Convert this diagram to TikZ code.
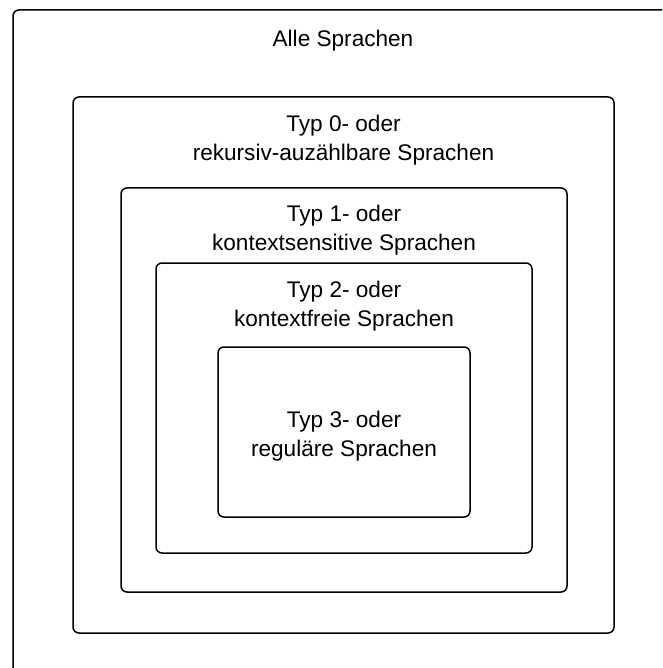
\documentclass[tikz,border=0pt]{standalone}
\usepackage{fontspec}
\setmainfont{Liberation Sans}
\usetikzlibrary{positioning}
\tikzset{
  menge/.style={draw, line width=1.5pt, rounded corners=6pt, inner sep=0pt},
  beschr/.style={inner sep=0pt, align=center, font=\fontsize{22.6}{29}\selectfont}
}
\begin{document}
\begin{tikzpicture}[x=1pt, y=-1pt]
    \useasboundingbox (0,0) rectangle (662,668);
    \clip (0,0) rectangle (662,668);
    %% next five nodes are the nested sets
    \node[menge, minimum width=660pt, minimum height=670pt] (alle) at (343,345) {};
    \node[menge, minimum width=541pt, minimum height=536pt] (typ0) at (343.5,365) {};
    \node[menge, minimum width=446pt, minimum height=404pt] (typ1) at (344,390) {};
    \node[menge, minimum width=376pt, minimum height=290pt] (typ2) at (344,408) {};
    \node[menge, minimum width=252pt, minimum height=170pt] (typ3) at (344,432) {};
    %% labels
    \node[beschr, below=21pt of alle.north] (allelbl) {Alle Sprachen};
    \node[beschr, below=19pt of typ0.north] (typ0lbl) {Typ 0- oder\\rekursiv-auzählbare Sprachen};
    \node[beschr, below=18pt of typ1.north] (typ1lbl) {Typ 1- oder\\kontextsensitive Sprachen};
    \node[beschr, below=19pt of typ2.north] (typ2lbl) {Typ 2- oder\\kontextfreie Sprachen};
    \node[beschr, below=4pt of typ3.center, anchor=center] (typ3lbl) {Typ 3- oder\\reguläre Sprachen};
\end{tikzpicture}
\end{document}
